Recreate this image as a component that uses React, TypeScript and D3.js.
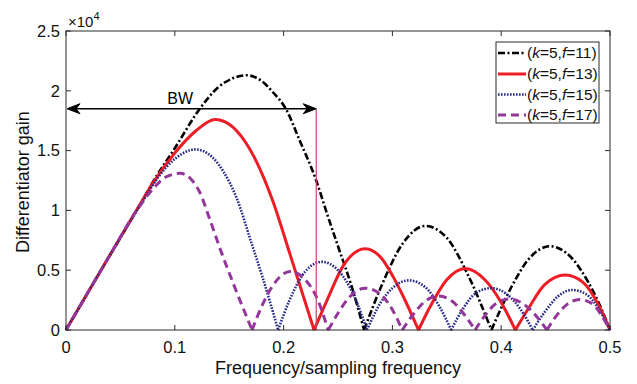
import React from 'react';
import * as d3 from 'd3';

const W = 637;
const H = 384;

const X_TICKS = [0, 0.1, 0.2, 0.3, 0.4, 0.5];
const Y_TICKS = [0, 0.5, 1, 1.5, 2, 2.5];

// (k=5, f=11)
const F11_X = [0, 0.04, 0.07, 0.08, 0.10, 0.123, 0.14, 0.155, 0.166, 0.18, 0.19, 0.202, 0.215, 0.23, 0.24, 0.25, 0.262, 0.274,
  0.29, 0.31, 0.33, 0.35, 0.37, 0.391,
  0.41, 0.425, 0.445, 0.465, 0.48, 0.49, 0.5];
const F11_Y = [0, 0.62, 1.08, 1.24, 1.52, 1.85, 2.03, 2.11, 2.13, 2.08, 1.99, 1.85, 1.58, 1.25, 0.97, 0.70, 0.38, 0,
  0.37, 0.73, 0.87, 0.77, 0.45, 0,
  0.37, 0.59, 0.70, 0.60, 0.40, 0.22, 0];

// (k=5, f=13)
const F13_X = [0, 0.04, 0.07, 0.08, 0.10, 0.12, 0.137, 0.15, 0.165, 0.18, 0.19, 0.206, 0.228,
  0.24, 0.255, 0.275, 0.29, 0.301, 0.31, 0.324,
  0.335, 0.35, 0.367, 0.385, 0.40, 0.413,
  0.425, 0.44, 0.459, 0.475, 0.49, 0.5];
const F13_Y = [0, 0.62, 1.08, 1.23, 1.48, 1.67, 1.76, 1.72, 1.57, 1.31, 1.08, 0.63, 0,
  0.25, 0.54, 0.68, 0.60, 0.44, 0.28, 0,
  0.20, 0.42, 0.515, 0.42, 0.23, 0,
  0.18, 0.38, 0.46, 0.40, 0.20, 0];

// (k=5, f=15)
const F15_X = [0, 0.04, 0.07, 0.085, 0.10, 0.119, 0.135, 0.145, 0.157, 0.17, 0.18, 0.195,
  0.205, 0.22, 0.235, 0.25, 0.265, 0.2766,
  0.29, 0.30, 0.315, 0.33, 0.343, 0.354,
  0.365, 0.377, 0.391, 0.405, 0.418, 0.429,
  0.44, 0.452, 0.465, 0.478, 0.49, 0.5];
const F15_Y = [0, 0.62, 1.07, 1.28, 1.43, 1.51, 1.44, 1.32, 1.10, 0.74, 0.46, 0,
  0.24, 0.49, 0.57, 0.50, 0.28, 0,
  0.24, 0.35, 0.415, 0.36, 0.20, 0,
  0.18, 0.31, 0.35, 0.30, 0.17, 0,
  0.15, 0.28, 0.335, 0.30, 0.17, 0];

// (k=5, f=17)
const F17_X = [0, 0.04, 0.065, 0.08, 0.092, 0.105, 0.115, 0.123, 0.132, 0.142, 0.155, 0.171,
  0.18, 0.19, 0.206, 0.22, 0.23, 0.241,
  0.25, 0.26, 0.275, 0.29, 0.30, 0.309,
  0.32, 0.33, 0.342, 0.355, 0.366, 0.376,
  0.385, 0.395, 0.408, 0.42, 0.432, 0.442,
  0.45, 0.46, 0.472, 0.485, 0.493, 0.5];
const F17_Y = [0, 0.62, 1.0, 1.18, 1.28, 1.31, 1.26, 1.15, 0.93, 0.67, 0.36, 0,
  0.20, 0.37, 0.49, 0.42, 0.28, 0,
  0.14, 0.27, 0.35, 0.29, 0.17, 0,
  0.14, 0.24, 0.285, 0.24, 0.13, 0,
  0.12, 0.22, 0.26, 0.22, 0.12, 0,
  0.11, 0.21, 0.255, 0.21, 0.11, 0];

const SERIES_F = ['11', '13', '15', '17'];

const BW_FREQ = 0.23;
const BW_GAIN = 1.85;

const FONT = '"Liberation Sans", Arial, Helvetica, sans-serif';

export default function App() {
  const x = d3.scaleLinear().domain([0, 0.5]).range([66, 610]);
  const y = d3.scaleLinear().domain([0, 2.5]).range([330, 31]);

  const line = d3
    .line<[number, number]>()
    .x((d) => x(d[0]))
    .y((d) => y(d[1]))
    .curve(d3.curveMonotoneX);

  const lobePath = (xs: number[], ys: number[]) => {
    const segs: [number, number][][] = [];
    let cur: [number, number][] = [];
    xs.forEach((xv, i) => {
      cur.push([xv, ys[i]]);
      if (ys[i] === 0 && cur.length > 1) {
        segs.push(cur);
        cur = [[xv, ys[i]]];
      }
    });
    if (cur.length > 1) segs.push(cur);
    return segs.map((s) => line(s)).join('');
  };

  const styles = [
    { color: '#000000', width: 2.6, dash: '7,2.5,2,2.5' },
    { color: '#ee1c25', width: 3, dash: 'none' },
    { color: '#26288a', width: 2.6, dash: '1.6,1.4' },
    { color: '#93379a', width: 3, dash: '8,5' },
  ];
  const data = [
    [F11_X, F11_Y],
    [F13_X, F13_Y],
    [F15_X, F15_Y],
    [F17_X, F17_Y],
  ];

  const x0 = x(0);
  const x1 = x(0.5);
  const y0 = y(0);
  const y1 = y(2.5);
  const axisColor = '#2a2a2a';

  const ay = y(BW_GAIN);
  const axL = x(0) + 1;
  const axR = x(BW_FREQ);

  const legendRows = [53, 74, 94.5, 115];

  return (
    <svg
      width={W}
      height={H}
      style={{ position: 'absolute', left: 0, top: 0, background: '#fff' }}
      fontFamily={FONT}
    >
      <rect x={0} y={0} width={W} height={H} fill="#fff" />
      {/* curves */}
      {data.map((d, i) => (
        <path
          key={i}
          d={lobePath(d[0] as number[], d[1] as number[])}
          fill="none"
          stroke={styles[i].color}
          strokeWidth={styles[i].width}
          strokeDasharray={styles[i].dash}
          strokeLinejoin="round"
        />
      ))}

      {/* BW annotation */}
      <line x1={axR} x2={axR} y1={ay} y2={y0} stroke="#c8456a" strokeWidth={1.2} />
      <line x1={axL + 4} x2={axR - 4} y1={ay} y2={ay} stroke="#000" strokeWidth={1.5} />
      <path
        d={`M${axL},${ay} L${axL + 13},${ay - 5} L${axL + 9},${ay} L${axL + 13},${ay + 5} Z`}
        fill="#000"
        stroke="#000"
        strokeWidth={1}
        strokeLinejoin="miter"
      />
      <path
        d={`M${axR},${ay} L${axR - 13},${ay - 5} L${axR - 9},${ay} L${axR - 13},${ay + 5} Z`}
        fill="#000"
        stroke="#000"
        strokeWidth={1}
        strokeLinejoin="miter"
      />
      <text x={x(0.105)} y={ay - 5} fontSize={16} textAnchor="middle" fill="#000">
        BW
      </text>

      {/* frame */}
      <rect x={x0} y={y1} width={x1 - x0} height={y0 - y1} fill="none" stroke={axisColor} strokeWidth={1} />
      {X_TICKS.map((t) => (
        <g key={'xt' + t}>
          <line x1={x(t)} x2={x(t)} y1={y0} y2={y0 - 5} stroke={axisColor} />
          <line x1={x(t)} x2={x(t)} y1={y1} y2={y1 + 5} stroke={axisColor} />
          <text x={x(t)} y={y0 + 23} fontSize={16.5} textAnchor="middle" fill="#111">
            {d3.format('')(t)}
          </text>
        </g>
      ))}
      {Y_TICKS.map((t) => (
        <g key={'yt' + t}>
          <line x1={x0} x2={x0 + 5} y1={y(t)} y2={y(t)} stroke={axisColor} />
          <line x1={x1} x2={x1 - 5} y1={y(t)} y2={y(t)} stroke={axisColor} />
          <text x={x0 - 6} y={y(t)} dy="0.35em" fontSize={16.5} textAnchor="end" fill="#111">
            {d3.format('')(t)}
          </text>
        </g>
      ))}
      <text x={68} y={27} fontSize={15} fill="#111">
        ×10
        <tspan fontSize={11} dy={-7}>
          4
        </tspan>
      </text>

      {/* axis titles */}
      <text x={(x0 + x1) / 2} y={374} fontSize={18} textAnchor="middle" fill="#111">
        Frequency/sampling frequency
      </text>
      <text
        transform={`translate(29,${182}) rotate(-90)`}
        fontSize={18}
        textAnchor="middle"
        fill="#111"
      >
        Differentiator gain
      </text>

      {/* legend */}
      <rect x={496} y={42} width={103} height={81} fill="#fff" stroke={axisColor} strokeWidth={1} />
      {SERIES_F.map((f, i) => (
        <g key={'lg' + f}>
          <line
            x1={498}
            x2={526}
            y1={legendRows[i]}
            y2={legendRows[i]}
            stroke={styles[i].color}
            strokeWidth={styles[i].width}
            strokeDasharray={styles[i].dash}
          />
          <text x={527} y={legendRows[i]} dy="0.35em" fontSize={15.5} fill="#111">
            (<tspan fontStyle="italic">k</tspan>=5,<tspan fontStyle="italic">f</tspan>={f})
          </text>
        </g>
      ))}
    </svg>
  );
}
